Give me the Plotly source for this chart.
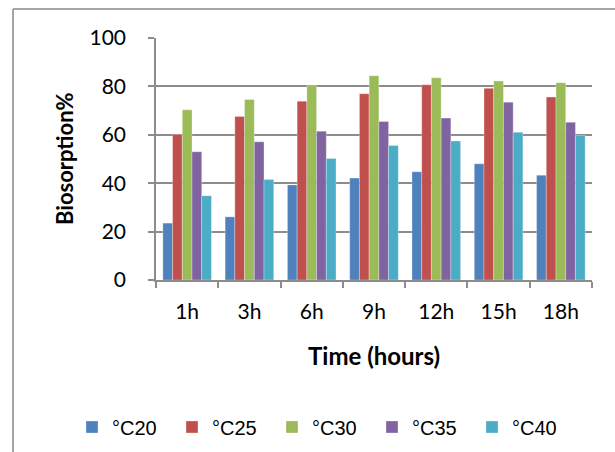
import plotly.graph_objects as go

# Sampling times and biosorption (%) at each temperature
times = ["1h", "3h", "6h", "9h", "12h", "15h", "18h"]
series_names = ["°C20", "°C25", "°C30", "°C35", "°C40"]
t20 = [23.5, 26.1, 39.3, 42.1, 44.7, 48.0, 43.3]
t25 = [60.2, 67.6, 73.9, 77.0, 80.7, 79.2, 75.6]
t30 = [70.3, 74.6, 80.3, 84.4, 83.6, 82.2, 81.5]
t35 = [53.0, 57.1, 61.5, 65.5, 66.9, 73.5, 65.2]
t40 = [34.8, 41.5, 50.2, 55.6, 57.4, 61.1, 59.7]
y_ticks = [0, 20, 40, 60, 80, 100]

colors = ["#4F81BD", "#C0504D", "#9BBB59", "#8064A2", "#4BACC6"]
values = [t20, t25, t30, t35, t40]

W, H = 615, 452
L, R, T, B = 156, 23, 38, 172
pw, ph = W - L - R, H - T - B

fig = go.Figure()
for name, vals, c in zip(series_names, values, colors):
    fig.add_trace(go.Bar(
        x=times, y=vals, name=name,
        marker=dict(color=c, line=dict(color="rgba(255,255,255,0.5)", width=0.6)),
    ))

grid = "#8c8c8c"
tick_font = dict(family="Lato, Calibri, sans-serif", size=21, color="#000")

fig.update_layout(
    width=W, height=H,
    margin=dict(l=L, r=R, t=T, b=B, autoexpand=False),
    paper_bgcolor="white", plot_bgcolor="white",
    barmode="group", bargap=0.22, bargroupgap=0,
    showlegend=True,
    legend=dict(
        orientation="h", xref="paper", yref="paper",
        x=(72 - L) / pw, xanchor="left",
        y=(H - 427 - B) / ph, yanchor="middle",
        font=dict(family="Liberation Sans, Arial, sans-serif", size=20, color="#000"),
        entrywidth=55, entrywidthmode="pixels",
        itemwidth=30, traceorder="normal",
    ),
    xaxis=dict(
        type="category", showline=True, linecolor=grid, linewidth=1.5,
        ticks="outside", tickson="boundaries", ticklen=6, tickcolor=grid, tickwidth=1.5,
        tickfont=tick_font, ticklabelstandoff=12, showgrid=False,
    ),
    yaxis=dict(
        range=[0, 100], tickvals=y_ticks, showline=True, linecolor=grid, linewidth=1.5,
        ticks="outside", ticklen=6, tickcolor=grid, tickwidth=1.5,
        tickfont=tick_font, ticklabelstandoff=18,
        showgrid=True, gridcolor=grid, gridwidth=1.5, zeroline=False,
    ),
    annotations=[
        dict(text="<b>Biosorption%</b>", textangle=-90, xref="paper", yref="paper",
             x=(64 - L) / pw, y=(H - 159 - B) / ph, xanchor="center", yanchor="middle",
             showarrow=False, font=dict(family="Lato, Calibri, sans-serif", size=22, color="#000")),
        dict(text="<b>Time (hours)</b>", xref="paper", yref="paper",
             x=0.5, y=(H - 355 - B) / ph, xanchor="center", yanchor="middle",
             showarrow=False, font=dict(family="Lato, Calibri, sans-serif", size=24, color="#000")),
    ],
    shapes=[
        # outer chart frame (left and top edges)
        dict(type="line", xref="paper", yref="paper",
             x0=(13 - L) / pw, x1=(13 - L) / pw, y0=(H - 452 - B) / ph, y1=(H - 9 - B) / ph,
             line=dict(color="#a6a6a6", width=2)),
        dict(type="line", xref="paper", yref="paper",
             x0=(13 - L) / pw, x1=(W - L) / pw, y0=(H - 9 - B) / ph, y1=(H - 9 - B) / ph,
             line=dict(color="#a6a6a6", width=2)),
    ],
)

fig.write_html("out.html")
